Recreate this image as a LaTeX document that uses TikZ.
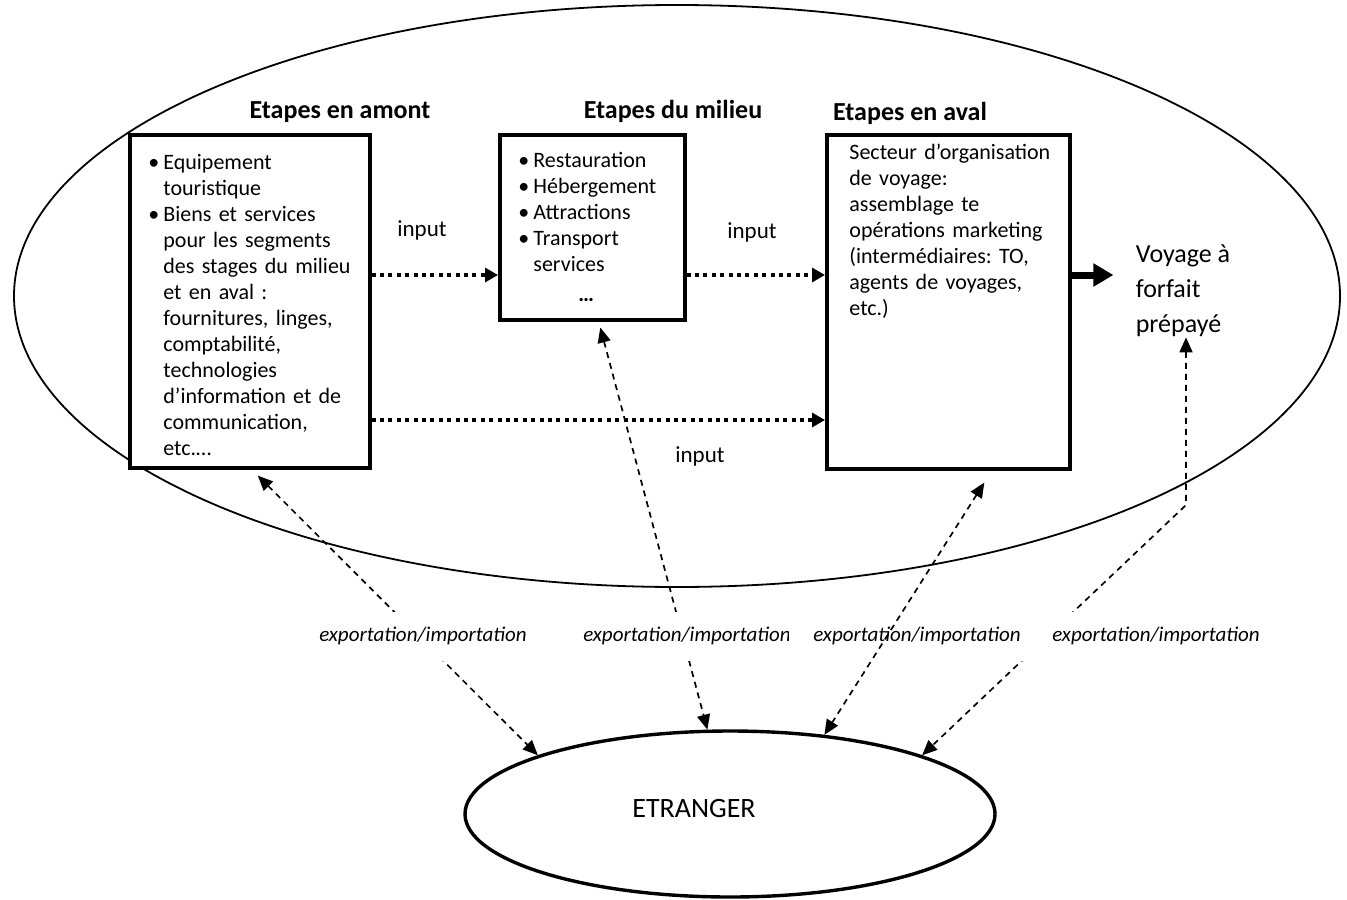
\documentclass[tikz,border=0pt]{standalone}
\usepackage{fontspec}
\setmainfont{Carlito}
\usetikzlibrary{arrows.meta,shapes.geometric,positioning}
\newcommand{\puce}{\par\hangindent=7.5pt\hangafter=1\noindent\makebox[7.5pt][l]{\textbullet}\strut}

\tikzset{
  stage/.style={draw, line width=1.8pt, fill=white, inner sep=0pt, anchor=north west},
  corps/.style={anchor=north west, inner sep=0pt, align=left, font=\fontsize{11}{13}\selectfont\frenchspacing},
  titre/.style={font=\fontsize{13}{15}\selectfont\bfseries},
  lien/.style={font=\fontsize{11.5}{13}\selectfont},
  feed/.style={line width=2.2pt, dash pattern=on 2pt off 2.2pt, -{Triangle[length=6.5pt,width=7pt]}},
  exim/.style={line width=0.85pt, dash pattern=on 3pt off 2.5pt,
    {Triangle[length=7.5pt,width=6.5pt]}-{Triangle[length=7.5pt,width=6.5pt]}},
  flux/.style={font=\fontsize{10.5}{12}\selectfont\itshape, fill=white, inner xsep=12pt,
    inner ysep=7.25pt, text height=7.5pt, text depth=2.5pt}
}

\begin{document}
\begin{tikzpicture}[x=0.5pt,y=-0.5pt]
\useasboundingbox (0,0) rectangle (1347,899);

\node[draw, ellipse, line width=0.9pt, minimum width=663pt, minimum height=291pt, inner sep=0pt] (pays) at (677,296) {};

% les trois etapes
\node[stage, minimum width=120pt, minimum height=166.5pt] (amont) at (128,133) {};
\node[stage, minimum width=92.5pt, minimum height=92.5pt] (milieu) at (498,133) {};
\node[stage, minimum width=121.5pt, minimum height=167pt] (aval) at (825,133) {};

\node[titre] (titre-amont) at (340,112) {Etapes en amont};
\node[titre] (titre-milieu) at (673,111) {Etapes du milieu};
\node[titre] (titre-aval) at (910,113) {Etapes en aval};

\node[corps, text width=108pt] (liste-amont) at ([xshift=10pt,yshift=-5pt]amont.north west) {%
\puce Equipement\newline touristique
\puce Biens et services\newline pour les segments\newline des stages du milieu\newline et en aval :\newline fournitures, linges,\newline comptabilité,\newline technologies\newline d’information et de\newline communication,\newline etc.…\par};
\node[corps, text width=85pt] (liste-milieu) at ([xshift=10pt,yshift=-4pt]milieu.north west) {%
\puce Restauration
\puce Hébergement
\puce Attractions
\puce Transport\newline services\newline\rule{0pt}{14pt}\hspace*{22.5pt}\textbf{…}\par};
\node[corps, text width=115pt] (liste-aval) at ([xshift=12pt,yshift=-4pt]aval.north west) {%
\noindent\strut Secteur d’organisation\newline de voyage:\newline assemblage te\newline opérations marketing\newline (intermédiaires: TO,\newline agents de voyages,\newline etc.)\par};

\node[align=left, font=\fontsize{13}{17.5}\selectfont, inner xsep=11pt, inner ysep=0pt] (voyage) at (1183,291) {Voyage à\\forfait\\prépayé};

\node[draw, ellipse, line width=1.7pt, minimum width=265pt, minimum height=83pt, inner sep=0pt,
  label={[font=\fontsize{14}{16}\selectfont, xshift=-18pt, yshift=3pt]center:ETRANGER}] (etranger) at (730,814) {};

% inputs
\coordinate (r1) at (0,275);
\coordinate (r2) at (0,420);
\draw[feed] (amont.east |- r1) -- (milieu.west |- r1);
\draw[feed] (milieu.east |- r1) -- (aval.west |- r1);
\draw[feed] (amont.east |- r2) -- (aval.west |- r2);
\node[lien] (in-1) at (422,230) {input};
\node[lien] (in-2) at (752,232) {input};
\node[lien] (in-3) at (700,456) {input};

\draw[line width=3.5pt, -{Triangle[length=10pt,width=11pt]}] (aval.east |- r1) -- (voyage.west |- r1);

% echanges avec l'etranger
\coordinate (coude) at (1186,505);
\draw[exim] ([xshift=4pt,yshift=-3pt]amont.south) -- (etranger.163);
\draw[exim] ([xshift=4pt,yshift=-3pt]milieu.south) -- (etranger.105);
\draw[exim] (voyage.south -| coude) -- (coude) -- (etranger.17);

\node[flux] (ex-1) at (423,636) {exportation/importation};
\node[flux] (ex-2) at (687,636) {exportation/importation};
\node[flux] (ex-3) at (917,636) {exportation/importation};
\node[flux] (ex-4) at (1156,636) {exportation/importation};

\draw[exim] ([xshift=18pt,yshift=-6pt]aval.south) -- (etranger.40);
\end{tikzpicture}
\end{document}
